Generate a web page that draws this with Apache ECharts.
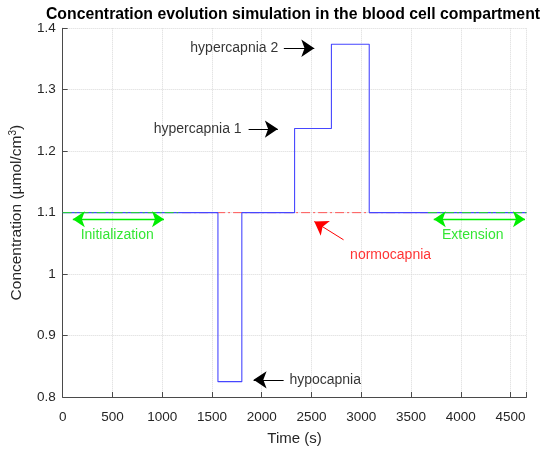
<!DOCTYPE html>
<html>
<head>
<meta charset="utf-8">
<script src="https://cdn.jsdelivr.net/npm/echarts@6/dist/echarts.min.js"></script>
<style>
html,body{margin:0;padding:0;background:#fff;}
#chart{width:550px;height:451px;}
</style>
</head>
<body>
<div id="chart"></div>
<script>
// ---- data ----
const titleText = 'Concentration evolution simulation in the blood cell compartment';
const xAxisName = 'Time (s)';
const yAxisName = 'Concentration (µmol/cm{sup|3})';
const xTicks = [0, 500, 1000, 1500, 2000, 2500, 3000, 3500, 4000, 4500];
const yTicks = [0.8, 0.9, 1, 1.1, 1.2, 1.3, 1.4];
const xMax = 4660;

// blue simulated concentration (step changes)
const stepTimes  = [0,   1560,  1800, 2330,  2700,  3080, 4660];
const stepValues = [1.1, 0.825, 1.1,  1.237, 1.374, 1.1,  1.1];

const baseline = 1.1;
const normoRange = [1200, 3670];   // red dash-dot reference
const initRange  = [0, 1160];      // green dash-dot initialization
const extRange   = [3670, 4660];   // green dash-dot extension

// annotation texts: [text, x, y]
const blackNotes = [['hypercapnia 2', 2166, 1.3675], ['hypercapnia 1', 1798, 1.236]];
const hypoNote   = ['hypocapnia', 2278, 0.828];
const redNote    = ['normocapnia', 2888, 1.031];
const greenNotes = [['Initialization', 548, 1.064], ['Extension', 4120, 1.064]];

// arrows: [x1, y1, x2, y2] (head at x2,y2)
const blackArrows = [[2222, 1.3675, 2528, 1.3675], [1868, 1.236, 2162, 1.236], [2220, 0.828, 1918, 0.828]];
const redArrows   = [[2822, 1.0558, 2528, 1.0855]];
const greenArrows = [[102, 1.0894, 1018, 1.0894], [3728, 1.0894, 4645, 1.0894]];

// ---- chart ----
const FONT = "'Liberation Sans', Arial, sans-serif";
const chart = echarts.init(document.getElementById('chart'));

function seg(r) { return [[r[0], baseline], [r[1], baseline]]; }
function arrowData(list, both) {
  return list.map(a => [
    { coord: [a[0], a[1]], symbol: both ? 'arrow' : 'none' },
    { coord: [a[2], a[3]], symbol: 'arrow' }
  ]);
}
function noteItem(n, align, color) {
  return {
    value: [n[1], n[2]],
    label: { show: true, formatter: n[0], position: 'inside', align: align, verticalAlign: 'middle',
             color: color, fontSize: 14, fontFamily: FONT }
  };
}

const dashDot = [9, 3, 2, 3];

const option = {
  animation: false,
  title: {
    text: titleText, left: 293, top: 7, textAlign: 'center', padding: 0,
    textStyle: { fontSize: 15.8, fontWeight: 'bold', color: '#000', fontFamily: FONT }
  },
  grid: { left: 60, right: 23.5, top: 28.3, bottom: 53.5, containLabel: false },
  xAxis: {
    type: 'value', min: 0, max: xMax, interval: 500,
    name: xAxisName, nameLocation: 'middle', nameGap: 34,
    nameTextStyle: { fontSize: 15, color: '#262626', fontFamily: FONT },
    axisLine: { show: true, onZero: false, lineStyle: { color: '#4a4a4a', width: 1 } },
    axisTick: { show: true, inside: true, length: 5, lineStyle: { color: '#4a4a4a' } },
    axisLabel: { margin: 13, fontSize: 13.5, color: '#262626', fontFamily: FONT,
                 formatter: v => (xTicks.indexOf(v) >= 0 ? String(v) : '') },
    splitLine: { show: true, lineStyle: { color: '#d9d9d9', type: 'dotted', width: 1 } }
  },
  yAxis: {
    type: 'value', min: 0.8, max: 1.4, interval: 0.1,
    name: yAxisName, nameLocation: 'middle', nameGap: 32,
    nameTextStyle: { fontSize: 15.5, color: '#262626', fontFamily: FONT, lineHeight: 18,
      rich: { sup: { fontSize: 10, lineHeight: 10, verticalAlign: 'top', color: '#262626', fontFamily: FONT } } },
    axisLine: { show: true, onZero: false, lineStyle: { color: '#4a4a4a', width: 1 } },
    axisTick: { show: true, inside: true, length: 5, lineStyle: { color: '#4a4a4a' } },
    axisLabel: { margin: 7, fontSize: 13.5, color: '#262626', fontFamily: FONT,
                 formatter: v => { const t = yTicks.find(k => Math.abs(k - v) < 1e-9); return t === undefined ? '' : String(t); } },
    splitLine: { show: true, lineStyle: { color: '#d9d9d9', type: 'dotted', width: 1 } }
  },
  series: [
    { name: 'normocapnia', type: 'line', data: seg(normoRange), symbol: 'none', silent: true, z: 2,
      lineStyle: { color: '#ff5555', width: 1, type: dashDot } },
    { name: 'simulation', type: 'line', step: 'end', symbol: 'none', silent: true, z: 3,
      data: stepTimes.map((t, i) => [t, stepValues[i]]),
      lineStyle: { color: '#4646ff', width: 1.1 } },
    { name: 'initialization', type: 'line', data: seg(initRange), symbol: 'none', silent: true, z: 4,
      lineStyle: { color: '#22e022', width: 1, type: dashDot } },
    { name: 'extension', type: 'line', data: seg(extRange), symbol: 'none', silent: true, z: 4,
      lineStyle: { color: '#22e022', width: 1, type: dashDot } },
    { name: 'blackArrows', type: 'line', data: [], silent: true, z: 5,
      markLine: { silent: true, animation: false, symbolSize: 13, label: { show: false },
        lineStyle: { color: '#000', width: 1, type: 'solid' }, itemStyle: { color: '#000' },
        emphasis: { disabled: true }, data: arrowData(blackArrows, false) } },
    { name: 'redArrows', type: 'line', data: [], silent: true, z: 5,
      markLine: { silent: true, animation: false, symbolSize: 13, label: { show: false },
        lineStyle: { color: '#ff0000', width: 1, type: 'solid' }, itemStyle: { color: '#ff0000' },
        emphasis: { disabled: true }, data: arrowData(redArrows, false) } },
    { name: 'greenArrows', type: 'line', data: [], silent: true, z: 5,
      markLine: { silent: true, animation: false, symbolSize: 12, label: { show: false },
        lineStyle: { color: '#00ee00', width: 1.3, type: 'solid' }, itemStyle: { color: '#00ee00' },
        emphasis: { disabled: true }, data: arrowData(greenArrows, true) } },
    { name: 'notes', type: 'scatter', symbolSize: 0, silent: true, z: 6,
      data: [
        ...blackNotes.map(n => noteItem(n, 'right', '#000')),
        noteItem(hypoNote, 'left', '#000'),
        noteItem(redNote, 'left', '#ff0000'),
        ...greenNotes.map(n => noteItem(n, 'center', '#00e000'))
      ] }
  ]
};
chart.setOption(option);
</script>
</body>
</html>
